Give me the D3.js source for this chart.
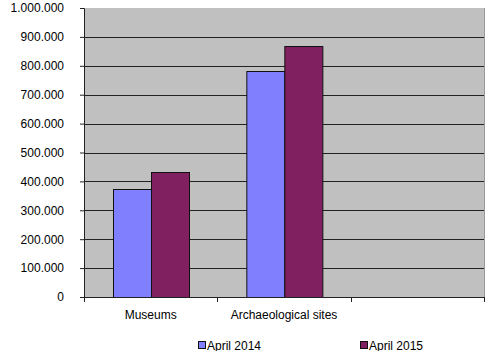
<!DOCTYPE html>
<html>
<head>
<meta charset="utf-8">
<script src="https://cdn.jsdelivr.net/npm/d3@7"></script>
<style>
  body { margin: 0; background: #fff; }
  svg text { font-family: "Liberation Sans", Arial, sans-serif; font-size: 12px; fill: #000; }
</style>
</head>
<body>
<div id="chart"></div>
<script>
// data
const categories = ["Museums", "Archaeological sites", ""];
const series = ["April 2014", "April 2015"];
const april2014 = [374000, 783000, null];
const april2015 = [431000, 870000, null];
const yTicks = [0, 100000, 200000, 300000, 400000, 500000, 600000, 700000, 800000, 900000, 1000000];
const colors = ["#8080ff", "#802060"];

function drawChart() {
    const W = 498, H = 351;
    const margin = { top: 8, right: 14, bottom: 54, left: 84 };
    const width = W - margin.left - margin.right;
    const height = H - margin.top - margin.bottom;

    const svg = d3.select("#chart").append("svg")
        .attr("width", W)
        .attr("height", H);

    const g = svg.append("g")
        .attr("transform", `translate(${margin.left},${margin.top})`);

    const x = d3.scaleBand().domain(categories).range([0, width]).padding(0);
    const xs = d3.scaleBand().domain(series).range([0, x.bandwidth()])
        .paddingInner(0).paddingOuter(0.75);
    const y = d3.scaleLinear().domain([0, 1000000]).range([height, 0]);

    // plot background
    g.append("rect")
        .attr("width", width).attr("height", height)
        .attr("fill", "#c0c0c0");

    // right border
    g.append("line")
        .attr("x1", width + 0.5).attr("x2", width + 0.5)
        .attr("y1", 0).attr("y2", height)
        .attr("stroke", "#999");

    // gridlines
    g.selectAll(".grid")
        .data(yTicks.filter(d => d > 0 && d < 1000000))
        .enter().append("line")
        .attr("x1", 0).attr("x2", width)
        .attr("y1", d => Math.round(y(d)) + 0.5)
        .attr("y2", d => Math.round(y(d)) + 0.5)
        .attr("stroke", "#222");

    // bars
    const rows = categories.map((c, i) => ({ cat: c, vals: [april2014[i], april2015[i]] }));
    const grp = g.selectAll(".grp").data(rows).enter().append("g")
        .attr("transform", d => `translate(${x(d.cat)},0)`);
    grp.selectAll("rect")
        .data(d => d.vals.map((v, k) => ({ s: series[k], v, k })).filter(e => e.v != null))
        .enter().append("rect")
        .attr("x", d => Math.round(xs(d.s)) + 0.5)
        .attr("y", d => Math.round(y(d.v)) + 0.5)
        .attr("width", Math.round(xs.bandwidth()))
        .attr("height", d => Math.round(height - y(d.v)))
        .attr("fill", d => colors[d.k])
        .attr("stroke", "#111");

    // y axis
    g.append("g")
        .call(d3.axisLeft(y).tickValues(yTicks).tickSize(4).tickPadding(16)
            .tickFormat(d => d3.format(",")(d).replace(/,/g, ".")))
        .call(a => a.select(".domain").attr("stroke", "#222"))
        .call(a => a.selectAll(".tick line").attr("stroke", "#222"))
        .call(a => a.selectAll("text").style("font-size", "12px"));

    // x axis
    const xa = g.append("g").attr("transform", `translate(0,${height})`);
    xa.append("line").attr("x1", -4).attr("x2", width)
        .attr("y1", 0.5).attr("y2", 0.5).attr("stroke", "#222");
    xa.selectAll(".xt")
        .data(d3.range(categories.length + 1))
        .enter().append("line")
        .attr("x1", i => Math.round(i * x.step()) + 0.5)
        .attr("x2", i => Math.round(i * x.step()) + 0.5)
        .attr("y1", 0).attr("y2", 5)
        .attr("stroke", "#222");
    xa.selectAll(".xl")
        .data(categories)
        .enter().append("text")
        .attr("x", d => x(d) + x.bandwidth() / 2)
        .attr("y", 22)
        .attr("text-anchor", "middle")
        .text(d => d);

    // legend
    const legendX = [198, 360];
    const lg = svg.selectAll(".leg").data(series).enter().append("g")
        .attr("transform", (d, i) => `translate(${legendX[i]},341)`);
    lg.append("rect")
        .attr("x", 0.5).attr("y", 0.5)
        .attr("width", 7).attr("height", 7)
        .attr("fill", (d, i) => colors[i])
        .attr("stroke", "#111");
    lg.append("text")
        .attr("x", 9).attr("y", 8.5)
        .text(d => d);
}

drawChart();
</script>
</body>
</html>
